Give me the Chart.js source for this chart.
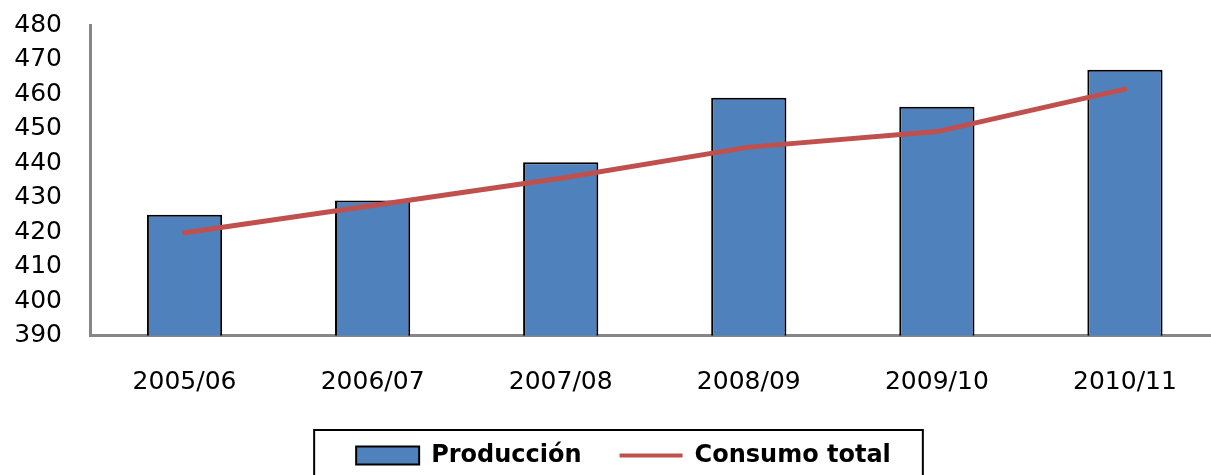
<!DOCTYPE html>
<html>
<head>
<meta charset="utf-8">
<script src="https://cdn.jsdelivr.net/npm/chart.js@4"></script>
<style>
  html, body { margin: 0; padding: 0; background: #ffffff; overflow: hidden; }
  #wrap { width: 1211px; height: 475px; overflow: hidden; position: relative; }
  canvas { display: block; }
</style>
</head>
<body>
<div id="wrap"><canvas id="c" width="1220" height="500"></canvas></div>
<script>
const categories = ['2005/06', '2006/07', '2007/08', '2008/09', '2009/10', '2010/11'];
const produccion = [425.0, 429.1, 440.2, 458.9, 456.3, 467.0];
const consumoTotal = [419.8, 427.7, 435.6, 444.6, 449.1, 461.4];
const seriesNames = ['Producción', 'Consumo total'];
const yMin = 390, yMax = 480, yStep = 10;

const legendTweak = {
  id: 'legendTweak',
  afterLayout(chart) {
    const lg = chart.legend;
    if (!lg) return;
    lg.left += 14;
    lg.right += 14;
  },
  afterDraw(chart) {
    const hb = chart.legend && chart.legend.legendHitBoxes;
    if (!hb || hb.length < 2) return;
    const ctx = chart.ctx;
    const cy = hb[0].top + hb[0].height / 2;
    const left = hb[0].left - 42;
    const right = hb[1].left + hb[1].width + 32;
    const top = cy - 25.5;
    ctx.save();
    ctx.strokeStyle = '#000000';
    ctx.lineWidth = 2;
    ctx.strokeRect(left, top, right - left, 80);
    ctx.restore();
  }
};

new Chart(document.getElementById('c'), {
  data: {
    labels: categories,
    datasets: [
      {
        type: 'bar',
        label: seriesNames[0],
        data: produccion,
        backgroundColor: '#4F81BD',
        borderColor: '#000000',
        borderWidth: 2,
        borderSkipped: false,
        barPercentage: 0.4,
        categoryPercentage: 1.0,
        pointStyle: 'rect',
        order: 2
      },
      {
        type: 'line',
        label: seriesNames[1],
        data: consumoTotal,
        borderColor: '#C0504D',
        backgroundColor: '#C0504D',
        borderWidth: 5,
        borderCapStyle: 'round',
        borderJoinStyle: 'round',
        pointRadius: 0,
        pointHoverRadius: 0,
        pointStyle: 'line',
        tension: 0,
        order: 1
      }
    ]
  },
  options: {
    responsive: false,
    animation: false,
    devicePixelRatio: 1,
    layout: { padding: { left: 0, right: 1, top: 25, bottom: 22.5 } },
    scales: {
      x: {
        offset: true,
        grid: { display: false, drawTicks: false },
        border: { display: true, color: '#868686', width: 3 },
        ticks: {
          color: '#000000',
          font: { family: 'DejaVu Sans', size: 25 },
          padding: 32,
          maxRotation: 0,
          autoSkip: false
        },
        afterFit(scale) { scale.height = 70; }
      },
      y: {
        min: yMin,
        max: yMax,
        grid: { display: false, drawTicks: false },
        border: { display: true, color: '#868686', width: 3 },
        ticks: {
          stepSize: yStep,
          autoSkip: false,
          color: '#000000',
          font: { family: 'DejaVu Sans', size: 25 },
          padding: 28.5
        },
        afterFit(scale) {
          scale.width = 90.5;
          scale.paddingTop = 0;
          scale.paddingBottom = 0;
        }
      }
    },
    plugins: {
      tooltip: { enabled: false },
      legend: {
        display: true,
        position: 'bottom',
        labels: {
          usePointStyle: true,
          pointStyleWidth: 63,
          boxHeight: 18,
          padding: 38,
          color: '#000000',
          font: { family: 'DejaVu Sans', size: 24, weight: 'bold' },
          sort: (a, b) => a.datasetIndex - b.datasetIndex,
          generateLabels(chart) {
            const items = Chart.defaults.plugins.legend.labels.generateLabels(chart);
            items.forEach((it) => {
              if (it.pointStyle === 'line') {
                it.lineWidth = 4;
                it.lineCap = 'butt';
              } else {
                it.lineWidth = 2;
              }
            });
            return items;
          }
        }
      }
    }
  },
  plugins: [legendTweak]
});
</script>
</body>
</html>
